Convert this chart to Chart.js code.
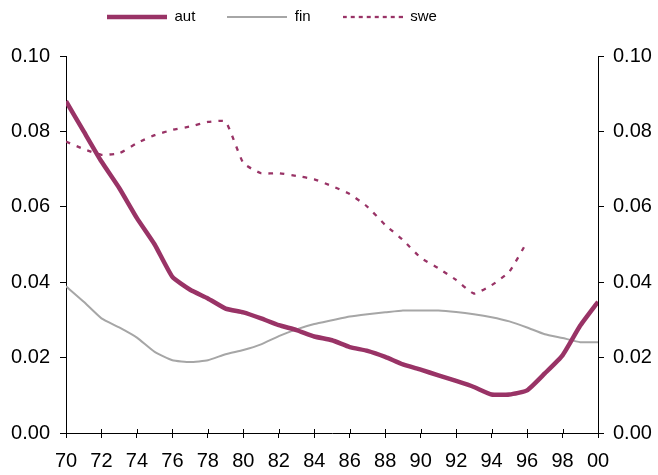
<!DOCTYPE html>
<html>
<head>
<meta charset="utf-8">
<script src="https://cdn.jsdelivr.net/npm/chart.js@4/dist/chart.umd.min.js"></script>
<style>
  html, body { margin: 0; padding: 0; background: #ffffff; }
  #wrap { width: 658px; height: 475px; position: relative; }
</style>
</head>
<body>
<div id="wrap"><canvas id="c"></canvas></div>
<script>
const years = [1970,1971,1972,1973,1974,1975,1976,1977,1978,1979,1980,1981,1982,1983,1984,1985,1986,1987,1988,1989,1990,1991,1992,1993,1994,1995,1996,1997,1998,1999,2000];
const aut = [0.088,0.080,0.072,0.065,0.057,0.050,0.0414,0.038,0.0357,0.033,0.032,0.0304,0.0286,0.0273,0.0256,0.0246,0.0228,0.0218,0.0202,0.0182,0.0168,0.0153,0.0138,0.0122,0.0102,0.0102,0.0113,0.0158,0.0206,0.0285,0.0348];
const fin = [0.0389,0.0348,0.0304,0.028,0.0253,0.0215,0.0193,0.0188,0.0193,0.0209,0.022,0.0235,0.0257,0.0275,0.0289,0.0299,0.0309,0.0315,0.032,0.0325,0.0325,0.0325,0.0321,0.0315,0.0307,0.0296,0.028,0.0262,0.0252,0.0241,0.0241];
const swe = [0.0773,0.0753,0.0738,0.0742,0.0769,0.079,0.0804,0.0813,0.0825,0.0826,0.0716,0.0689,0.0689,0.0682,0.0673,0.0655,0.0634,0.060,0.0552,0.0512,0.0465,0.0437,0.0406,0.037,0.0392,0.0428,0.0507,null,null,null,null];
const yTicks = [0.00,0.02,0.04,0.06,0.08,0.10];

const MAROON = '#993366';
const GREY = '#a6a6a6';

const toPts = arr => years.map((y, i) => ({x: y, y: arr[i]}));

function sample(color, width, dash) {
  const c = document.createElement('canvas');
  c.width = 60; c.height = 8;
  const g = c.getContext('2d');
  g.strokeStyle = color;
  g.lineWidth = width;
  g.lineCap = 'butt';
  g.setLineDash(dash);
  g.beginPath();
  g.moveTo(0, 4);
  g.lineTo(60, 4);
  g.stroke();
  return c;
}

const crossTicks = {
  id: 'crossTicks',
  afterLayout(chart) {
    const lg = chart.legend;
    if (lg) {
      const pad = lg.options.labels.padding;
      lg.left = 107 - pad;
      lg.top = 17 - 7.5 - pad;
    }
  },
  afterDraw(chart) {
    const xs = chart.scales.x;
    const ctx = chart.ctx;
    ctx.save();
    ctx.strokeStyle = '#000';
    ctx.lineWidth = 1;
    ctx.beginPath();
    xs.ticks.forEach(t => {
      const px = Math.round(xs.getPixelForValue(t.value)) + 0.5;
      ctx.moveTo(px, xs.top - 4);
      ctx.lineTo(px, xs.top);
    });
    ctx.stroke();
    ctx.restore();
  }
};

const tickFont = { family: "'Liberation Sans', Arial, sans-serif", size: 20 };

new Chart(document.getElementById('c'), {
  type: 'line',
  data: {
    datasets: [
      { label: 'aut', data: toPts(aut), borderColor: MAROON, backgroundColor: MAROON, borderWidth: 4.5, pointRadius: 0, pointStyle: sample(MAROON, 4.5, []), tension: 0.15, yAxisID: 'y' },
      { label: 'fin', data: toPts(fin), borderColor: GREY, backgroundColor: GREY, borderWidth: 2, pointRadius: 0, pointStyle: sample(GREY, 2, []), tension: 0.15, yAxisID: 'y' },
      { label: 'swe', data: toPts(swe), borderColor: MAROON, backgroundColor: MAROON, borderWidth: 2.3, borderDash: [4.5, 7], pointRadius: 0, pointStyle: sample(MAROON, 2.3, [4, 4]), tension: 0.15, spanGaps: false, yAxisID: 'y' }
    ]
  },
  options: {
    responsive: true,
    maintainAspectRatio: false,
    animation: false,
    layout: { padding: 0 },
    plugins: {
      tooltip: { enabled: false },
      legend: {
        position: 'top',
        align: 'start',
        maxHeight: 56,
        labels: {
          usePointStyle: true,
          pointStyleWidth: 60,
          padding: 32,
          color: '#000',
          font: { family: "'Liberation Sans', Arial, sans-serif", size: 15 }
        }
      }
    },
    scales: {
      x: {
        type: 'linear',
        min: 1970,
        max: 2000,
        afterFit(s) { s.height = 42; },
        afterBuildTicks(s) { s.ticks = years.filter(y => y % 2 === 0).map(v => ({value: v})); },
        ticks: {
          color: '#000',
          font: tickFont,
          padding: 11,
          maxRotation: 0,
          autoSkip: false,
          callback: v => String(v % 100).padStart(2, '0')
        },
        grid: { drawOnChartArea: false, drawTicks: true, tickLength: 5, color: '#000' },
        border: { display: true, color: '#000', width: 1 }
      },
      y: {
        position: 'left',
        min: 0,
        max: 0.1,
        afterFit(s) { s.width = 66; },
        afterBuildTicks(s) { s.ticks = yTicks.map(v => ({value: v})); },
        ticks: { color: '#000', font: tickFont, padding: 10, callback: v => Number(v).toFixed(2) },
        grid: { drawOnChartArea: false, drawTicks: true, tickLength: 6, color: '#000' },
        border: { display: true, color: '#000', width: 1 }
      },
      y2: {
        position: 'right',
        min: 0,
        max: 0.1,
        afterFit(s) { s.width = 60; },
        afterBuildTicks(s) { s.ticks = yTicks.map(v => ({value: v})); },
        ticks: { color: '#000', font: tickFont, padding: 9, callback: v => Number(v).toFixed(2) },
        grid: { drawOnChartArea: false, drawTicks: true, tickLength: 6, color: '#000' },
        border: { display: true, color: '#000', width: 1 }
      }
    }
  },
  plugins: [crossTicks]
});
</script>
</body>
</html>
